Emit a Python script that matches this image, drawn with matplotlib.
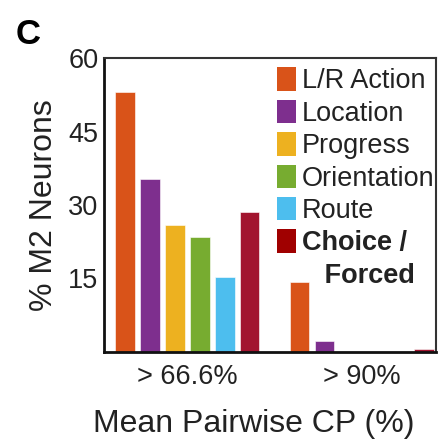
import matplotlib
matplotlib.use("Agg")
import matplotlib.pyplot as plt
from matplotlib.patches import Patch

plt.rcParams['font.family'] = ['Liberation Sans', 'DejaVu Sans']

# pourcentage de neurones M2 par variable, pour chaque seuil de CP
groupes = ['> 66.6%', '> 90%']
variables = ['L/R Action', 'Location', 'Progress', 'Orientation', 'Route', 'Choice /']
pourcentages = {
    'L/R Action':  [53.1, 14.2],
    'Location':    [35.3, 2.2],
    'Progress':    [25.9, 0.0],
    'Orientation': [23.4, 0.0],
    'Route':       [15.4, 0.0],
    'Choice /':    [28.5, 0.7],
}
couleurs = ['#D95319', '#7E2F8E', '#EDB120', '#77AC30', '#4DBEEE', '#A2142F']
couleur_legende_choix = '#A00000'
yticks = [15, 30, 45, 60]

texte = '#222222'

fig = plt.figure(figsize=(4.41, 4.42), dpi=100)
ax = fig.add_axes([104 / 441, 90 / 442, 332 / 441, 294 / 442])

centres = [0, 7]
largeur = 0.78
handles = []
for i, (var, coul) in enumerate(zip(variables, couleurs)):
    xs = [c + i - 2.5 for c in centres]
    ax.bar(xs, pourcentages[var], width=largeur, color=coul,
           edgecolor='white', linewidth=0.4)
    fc = couleur_legende_choix if var == 'Choice /' else coul
    handles.append(Patch(facecolor=fc, edgecolor='none', label=var))
# ligne de suite pour le libellé sur deux lignes
handles.append(Patch(facecolor='none', edgecolor='none', label='   Forced'))

ax.set_xlim(-3.35, 9.98)
ax.set_ylim(0, 60)
ax.set_xticks(centres)
ax.set_xticklabels(groupes)
ax.set_yticks(yticks)
ax.tick_params(axis='both', length=0, labelsize=19.5, labelcolor=texte)
ax.tick_params(axis='x', pad=9)
ax.tick_params(axis='y', pad=4)

for cote in ['left', 'bottom']:
    ax.spines[cote].set_linewidth(2.0)
    ax.spines[cote].set_color('#111111')
for cote in ['top', 'right']:
    ax.spines[cote].set_linewidth(1.5)
    ax.spines[cote].set_color('#333333')

ax.set_xlabel('Mean Pairwise CP (%)', fontsize=23, color=texte)
ax.xaxis.set_label_coords(0.45, -0.195)
ax.set_ylabel('% M2 Neurons', fontsize=23, color=texte)
ax.yaxis.set_label_coords(-0.135, 0.5)

leg = ax.legend(handles=handles, loc='upper left', bbox_to_anchor=(0.522, 0.968),
                frameon=False, fontsize=19.5, handlelength=0.7, handleheight=0.95,
                handletextpad=0.2, labelspacing=0.2, borderpad=0, borderaxespad=0)
for t in leg.get_texts():
    t.set_color(texte)
for t in leg.get_texts()[-2:]:
    t.set_fontweight('bold')

fig.text(28 / 441, 1 - 34.5 / 442, 'C', fontsize=25, fontweight='bold',
         ha='center', va='center', color='black')

fig.savefig('out.png', dpi=100)
